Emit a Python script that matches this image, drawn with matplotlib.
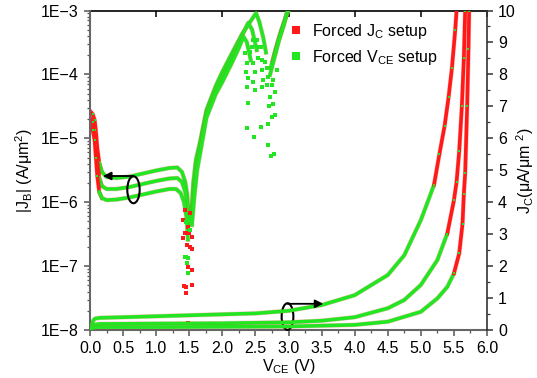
import numpy as np
import matplotlib
matplotlib.use('Agg')
import matplotlib.pyplot as plt
from matplotlib.patches import Ellipse
from matplotlib.lines import Line2D
from matplotlib.ticker import MultipleLocator, FuncFormatter, LogLocator, NullFormatter, NullLocator

plt.rcParams['font.family'] = ['Liberation Sans', 'DejaVu Sans']
plt.rcParams['mathtext.fontset'] = 'custom'
plt.rcParams['mathtext.rm'] = 'Liberation Sans'
plt.rcParams['mathtext.it'] = 'Liberation Sans:italic'
plt.rcParams['mathtext.bf'] = 'Liberation Sans:bold'
plt.rcParams['font.size'] = 11.5

RED = '#ff1a1a'
GREEN = '#22e622'
nan = np.nan

# |J_B| (A/um^2) for the three curves, nan = gap where the points scatter
jb1_v = [0.00, 0.04, 0.07, 0.09, 0.11, 0.14, 0.18, 0.25, 0.40, 0.60, 0.80, 1.00, 1.20, 1.32, 1.39, 1.44, 1.47, 1.49, nan,
         1.53, 1.56, 1.60, 1.66, 1.76, 1.90, 2.00, 2.17, 2.30, 2.40, 2.51, 2.56, 2.62, 2.66, nan,
         2.73, 2.80, 2.88, 2.96, 3.00]
jb1 = [2.67e-5, 2.40e-5, 1.93e-5, 1.26e-5, 7.05e-6, 4.10e-6, 2.97e-6, 2.48e-6, 2.39e-6, 2.52e-6, 2.81e-6, 3.13e-6,
       3.43e-6, 3.49e-6, 2.97e-6, 2.07e-6, 1.30e-6, 6.3e-7, nan,
       6.3e-7, 2.0e-6, 4.6e-6, 8.5e-6, 2.77e-5, 6.6e-5, 1.1e-4, 2.4e-4, 4.3e-4, 6.2e-4, 9.1e-4, 6.6e-4, 3.7e-4, 2.2e-4, nan,
       1.26e-4, 2.4e-4, 4.6e-4, 7.9e-4, 9.8e-4]

jb2_v = [0.00, 0.04, 0.07, 0.09, 0.11, 0.14, 0.18, 0.25, 0.40, 0.60, 0.80, 1.00, 1.20, 1.32, 1.39, 1.44, 1.47, 1.49, nan,
         1.53, 1.57, 1.61, 1.67, 1.76, 1.90, 2.00, 2.15, 2.30, 2.39, 2.45, 2.52, nan,
         2.76, 2.84, 2.92, 2.98]
jb2 = [2.08e-5, 1.80e-5, 1.35e-5, 7.85e-6, 4.26e-6, 2.39e-6, 1.79e-6, 1.61e-6, 1.61e-6, 1.73e-6, 1.93e-6, 2.15e-6,
       2.35e-6, 2.39e-6, 2.07e-6, 1.44e-6, 9.1e-7, 4.4e-7, nan,
       5.2e-7, 1.55e-6, 3.8e-6, 7.9e-6, 2.5e-5, 5.7e-5, 9.1e-5, 1.87e-4, 4.1e-4, 6.4e-4, 5.0e-4, 2.4e-4, nan,
       1.56e-4, 3.2e-4, 5.9e-4, 9.5e-4]

jb3_v = [0.00, 0.04, 0.07, 0.09, 0.11, 0.14, 0.18, 0.25, 0.40, 0.60, 0.80, 1.00, 1.20, 1.30, 1.37, 1.42, 1.46, 1.48, nan,
         1.54, 1.58, 1.62, 1.68, 1.76, 1.90, 2.00, 2.15, 2.25, 2.32, 2.37, 2.43, nan,
         2.72, 2.78, 2.86, 2.93, 2.97]
jb3 = [1.62e-5, 1.35e-5, 9.4e-6, 4.9e-6, 2.57e-6, 1.44e-6, 1.16e-6, 1.08e-6, 1.10e-6, 1.19e-6, 1.32e-6, 1.47e-6,
       1.61e-6, 1.61e-6, 1.39e-6, 1.01e-6, 5.7e-7, 2.6e-7, nan,
       4.4e-7, 1.3e-6, 3.2e-6, 7.1e-6, 2.1e-5, 4.9e-5, 7.6e-5, 1.56e-4, 2.6e-4, 3.9e-4, 3.2e-4, 1.67e-4, nan,
       9.8e-5, 1.7e-4, 3.5e-4, 5.9e-4, 8.5e-4]

# scattered |J_B| points around the sign changes
dip_red_v = [1.436, 1.511, 1.410, 1.486, 1.436, 1.537, 1.410, 1.461, 1.511, 1.537, 1.486, 1.537, 1.451, 1.537, 1.451,
             1.486, 1.425, 1.496]
dip_red = [7.55e-7, 6.7e-7, 5.26e-7, 4.14e-7, 3.26e-7, 2.88e-7, 2.72e-7, 2.14e-7, 2.01e-7, 1.83e-7, 9.8e-8, 8.7e-8,
           4.77e-8, 5.06e-8, 3.75e-8, 1.30e-8, 4.8e-8, 3.26e-7]
dip_green_v = [1.451, 1.486, 1.466, 1.511, 1.451, 1.486, 1.436, 1.511]
dip_green = [1.40e-7, 1.32e-7, 1.12e-7, 3.67e-7, 4.9e-7, 7.9e-8, 1.40e-7, 5.3e-7]

peak_v = [2.342, 2.418, 2.368, 2.468, 2.358, 2.494, 2.392, 2.468, 2.368, 2.595, 2.494, 2.392, 2.368, 2.483, 2.584,
          2.695, 2.686, 2.735, 2.781, 2.796, 2.746, 2.710, 2.770, 2.720, 2.796, 2.670, 2.746, 2.619, 2.695, 2.770,
          2.595, 2.670, 2.595, 2.543, 2.645, 2.746, 2.822, 2.580, 2.519, 2.468, 2.543, 2.444]
peak_jb = [2.14e-4, 2.26e-4, 1.49e-4, 1.49e-4, 1.10e-4, 1.10e-4, 8.7e-5, 7.7e-5, 6.4e-5, 6.4e-5, 5.7e-5, 3.6e-5,
           1.44e-5, 1.04e-5, 1.49e-5, 1.67e-5, 7.9e-6, 5.3e-6, 5.7e-6, 2.3e-5, 2.13e-5, 3.2e-5, 3.4e-5, 4.5e-5,
           5.4e-5, 6.8e-5, 6.8e-5, 8.2e-5, 9.2e-5, 8.2e-5, 1.17e-4, 1.25e-4, 1.68e-4, 1.79e-4, 1.58e-4, 1.40e-4,
           1.17e-4, 2.7e-4, 3.45e-4, 3.45e-4, 2.7e-4, 2.7e-4]

# J_C (uA/um^2), right axis
jca_v = [0.00, 0.02, 0.05, 0.08, 0.15, 0.50, 1.00, 1.50, 2.00, 2.50, 3.00, 3.50, 4.00, 4.50, 4.75, 5.00, 5.12, 5.20,
         5.28, 5.36, 5.42, 5.47, 5.52, 5.55]
jca = [0.00, 0.12, 0.30, 0.36, 0.38, 0.40, 0.43, 0.46, 0.49, 0.52, 0.60, 0.78, 1.09, 1.72, 2.34, 3.44, 4.10, 4.55,
       5.50, 6.40, 7.30, 8.20, 9.40, 10.3]
jcb_v = [0.00, 0.03, 0.08, 0.15, 1.00, 2.00, 2.67, 3.00, 3.50, 4.00, 4.50, 4.75, 5.00, 5.25, 5.40, 5.50, 5.54, 5.58,
         5.62, 5.65, 5.67, 5.68]
jcb = [0.00, 0.12, 0.17, 0.19, 0.20, 0.21, 0.23, 0.24, 0.29, 0.40, 0.68, 0.94, 1.41, 2.19, 3.02, 4.06, 4.63, 5.60,
       7.00, 8.50, 10.0, 10.5]
jcc_v = [0.00, 0.03, 0.08, 0.15, 1.00, 2.00, 3.00, 4.00, 4.50, 5.00, 5.25, 5.40, 5.50, 5.58, 5.63, 5.65, 5.67, 5.70,
         5.72, 5.73, 5.74]
jcc = [0.00, 0.06, 0.08, 0.09, 0.09, 0.10, 0.11, 0.16, 0.26, 0.57, 0.99, 1.35, 1.77, 2.40, 3.33, 4.27, 4.90, 7.00,
       8.80, 10.0, 10.5]

fig = plt.figure(figsize=(5.37, 3.78), dpi=100)
ax = fig.add_axes([0.1676, 0.127, 0.7393, 0.8452])
ax2 = ax.twinx()

# base current, log axis
for v, j in [(jb1_v, jb1), (jb2_v, jb2), (jb3_v, jb3)]:
    v = np.array(v, float)
    j = np.array(j, float)
    ax.plot(v, j, color=RED, lw=3.3, alpha=0.25)
    steep = v <= 0.18
    ax.plot(v, np.where(steep, j, nan), color=RED, lw=2.6)
    ax.plot(v, np.where(v >= 0.14, j, nan), color=GREEN, lw=2.6)
    ax.plot(v[steep], j[steep], 's', color=GREEN, ms=2.0, mew=0)

ax.plot(dip_red_v, dip_red, 's', color=RED, ms=2.2, mew=0)
ax.plot(dip_green_v, dip_green, 's', color=GREEN, ms=2.2, mew=0)
ax.plot(peak_v, peak_jb, 's', color=GREEN, ms=2.2, mew=0)

# collector current, linear axis
for v, jc, thr in [(jca_v, jca, 4.5), (jcb_v, jcb, 2.5), (jcc_v, jcc, 1.5)]:
    v = np.array(v, float)
    jc = np.array(jc, float)
    k = np.argmax(jc >= thr)
    idx = np.arange(len(jc))
    ax2.plot(v, jc, color=RED, lw=3.3, alpha=0.25)
    ax2.plot(v[idx <= k], jc[idx <= k], color=GREEN, lw=2.6)
    ax2.plot(v[idx >= k], jc[idx >= k], color=RED, lw=2.6)
    ax2.plot(v[idx >= k], jc[idx >= k], 's', color=GREEN, ms=2.0, mew=0)

# ellipses + arrows
ax2.add_patch(Ellipse((0.657, 4.39), 0.187, 0.845, fc='none', ec='k', lw=1.5, clip_on=False))
ax2.annotate('', xy=(0.196, 4.82), xytext=(0.65, 4.82),
             arrowprops=dict(arrowstyle='-|>', color='k', lw=1.3, mutation_scale=12, shrinkA=0, shrinkB=0))
ax2.add_patch(Ellipse((2.985, 0.42), 0.177, 0.835, fc='none', ec='k', lw=1.5, clip_on=False))
ax2.annotate('', xy=(3.526, 0.82), xytext=(2.985, 0.82),
             arrowprops=dict(arrowstyle='-|>', color='k', lw=1.3, mutation_scale=12, shrinkA=0, shrinkB=0))

ax.set_xlim(0, 6)
ax.set_yscale('log')
ax.set_ylim(1e-8, 1e-3)
ax2.set_ylim(0, 10)

ax.xaxis.set_major_locator(MultipleLocator(0.5))
ax.xaxis.set_minor_locator(MultipleLocator(0.25))
ax.xaxis.set_major_formatter(FuncFormatter(lambda x, p: f'{x:.1f}'))
ax.yaxis.set_major_locator(LogLocator(base=10))
ax.yaxis.set_minor_locator(LogLocator(base=10, subs=np.arange(2, 10)))
ax.yaxis.set_minor_formatter(NullFormatter())
ax.yaxis.set_major_formatter(FuncFormatter(lambda y, p: '1E\u2212%d' % round(-np.log10(y))))
ax2.yaxis.set_major_locator(MultipleLocator(1))
ax2.yaxis.set_minor_locator(MultipleLocator(0.5))

ax.tick_params(which='major', direction='out', length=4, width=1.1, color='#555555', pad=4)
ax.tick_params(which='minor', direction='out', length=2.5, width=0.9, color='#555555')
ax2.tick_params(which='major', direction='out', length=4, width=1.1, color='#333333', pad=4)
ax2.tick_params(which='minor', direction='out', length=2.5, width=0.9, color='#333333')

for s in ['top', 'right']:
    ax.spines[s].set_visible(False)
for s in ['left', 'bottom']:
    ax.spines[s].set_color('#666666')
    ax.spines[s].set_linewidth(1.5)
    ax2.spines[s].set_visible(False)
ax2.spines['right'].set_color('#333333')
ax2.spines['right'].set_linewidth(1.2)
ax2.spines['top'].set_visible(False)

sec = ax.secondary_xaxis('top')
sec.set_xticks(range(7))
sec.xaxis.set_minor_locator(NullLocator())
sec.tick_params(direction='in', length=4, width=1.1, labeltop=False)
sec.spines['top'].set_linewidth(1.2)

ax.set_xlabel(r'$\mathrm{V_{CE}}$ (V)', labelpad=1)
ax.set_ylabel(r'|$\mathrm{J_B}$| (A/μm$^\mathrm{2}$)', labelpad=4)
ax2.set_ylabel(r'$\mathrm{J_C}$(μA/μm $^\mathrm{2}$)', labelpad=-1)

handles = [Line2D([], [], marker='s', color=RED, ls='none', ms=6, mew=0),
           Line2D([], [], marker='s', color=GREEN, ls='none', ms=6, mew=0)]
ax2.legend(handles, [r'Forced $\mathrm{J_C}$ setup', r'Forced $\mathrm{V_{CE}}$ setup'],
           loc='upper left', bbox_to_anchor=(0.475, 1.0), frameon=False, handlelength=0.8,
           handletextpad=0.6, labelspacing=0.45, borderaxespad=0.3)

fig.savefig('out.png', dpi=100)
